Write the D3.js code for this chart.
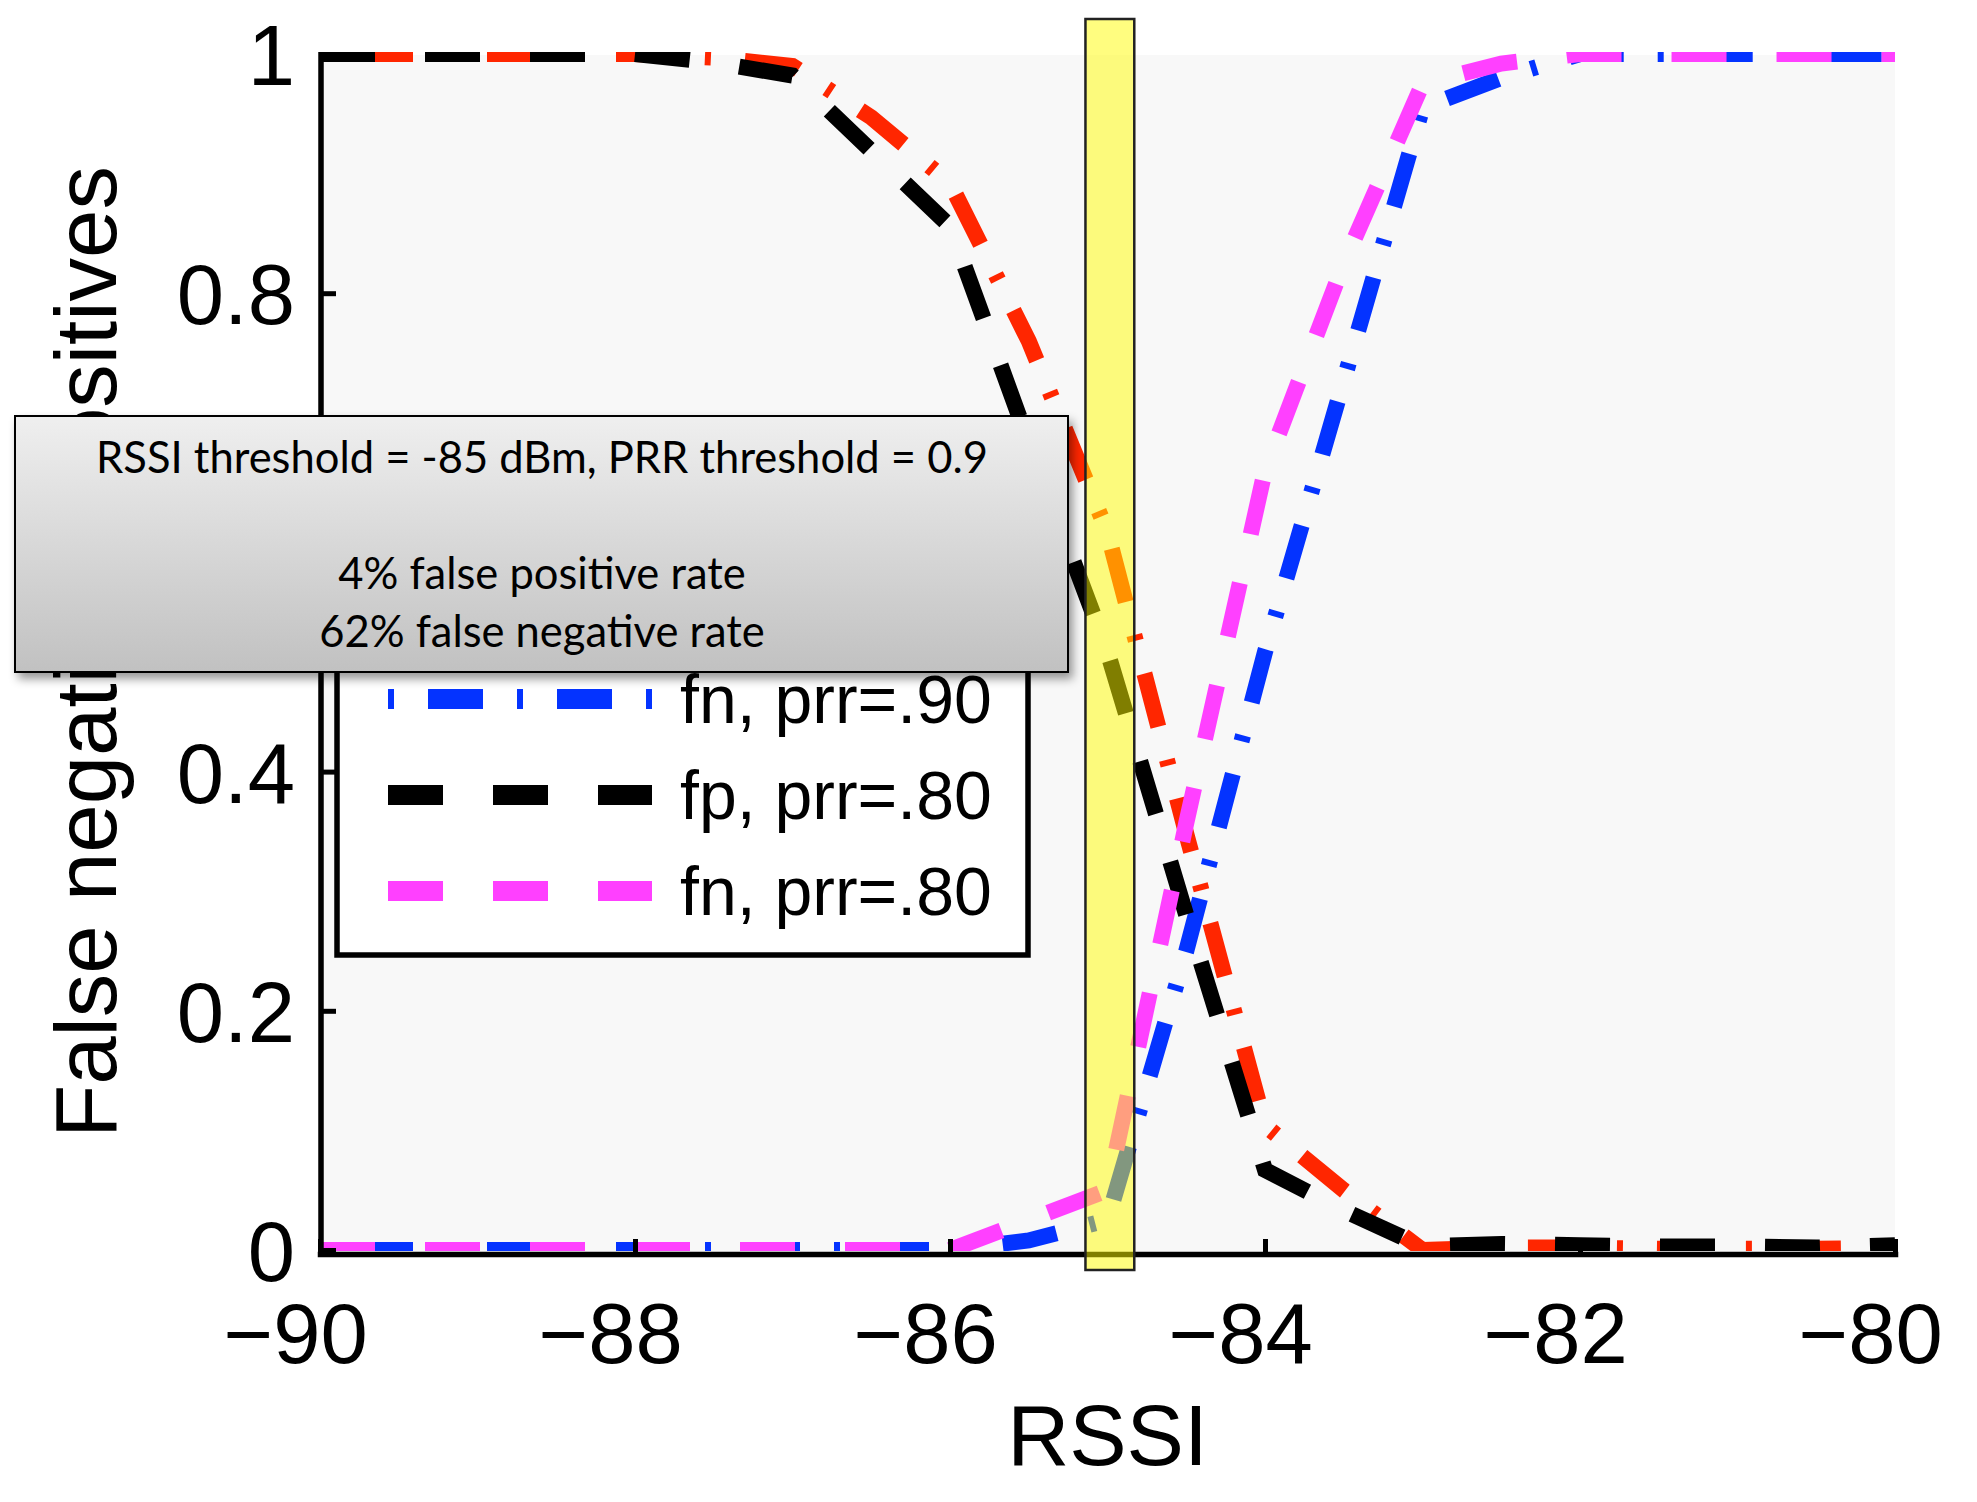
<!DOCTYPE html>
<html>
<head>
<meta charset="utf-8">
<script src="https://cdn.jsdelivr.net/npm/d3@7"></script>
<style>
html,body{margin:0;padding:0;background:#fff;}
</style>
</head>
<body>
<div id="chart"></div>
<script>
// values, one entry per RSSI sample
const rssi = [-90,-89.5,-89,-88.5,-88,-87.5,-87,-86.5,-86,-85.5,-85,-84.5,-84,-83.5,-83,-82.5,-82,-81.5,-81,-80.5,-80];
const fpPrr90 = [1,1,1,1,1,0.997,0.99,0.947,0.892,0.76,0.6,0.348,0.104,0.05,0.0,0.002,0.002,0.001,0.001,0.001,0.002];
const fnPrr90 = [0,0,0,0,0,0,0,0,0,0.008,0.025,0.25,0.5,0.727,0.955,0.98,1,1,1,1,1];
const fpPrr80 = [1,1,1,1,1,0.993,0.982,0.919,0.856,0.675,0.5,0.28,0.067,0.033,0.003,0.005,0.004,0.003,0.003,0.002,0.004];
const fnPrr80 = [0,0,0,0,0,0,0,0,0,0.025,0.05,0.357,0.652,0.825,0.975,0.992,1,1,1,1,1];

const seriesNames = ["fp, prr=.90","fn, prr=.90","fp, prr=.80","fn, prr=.80"];
const xTicks = [-90,-88,-86,-84,-82,-80];
const yTicks = [0,0.2,0.4,0.6,0.8,1];
const yTickLabels = ["0","0.2","0.4","0.6","0.8","1"];
const xLabel = "RSSI";
const yLabel = "False negatives/positives";
const bandRange = [-85.14,-84.83];
const noteLines = ["RSSI threshold = -85 dBm, PRR threshold = 0.9","","4% false positive rate","62% false negative rate"];

// matlab style line specs (colours as the mac renders them)
const lineStyles = [
	{color:"#ff2600",dash:"55,34,6,34",offset:91,legendOffset:89},
	{color:"#0433ff",dash:"55,34,6,34",offset:91,legendOffset:89},
	{color:"#000000",dash:"55,50",offset:0,legendOffset:0},
	{color:"#ff40ff",dash:"55,50",offset:0,legendOffset:0}
];

const AXIS_FONT = "'Liberation Sans', Arial, Helvetica, sans-serif";

class ThresholdChart{
	constructor(div,config){
		this.config=config;
		this.div=d3.select(div);
		var margin = {top: 54, right: 82, bottom: 252, left: 320};
		this.margin=margin;
		this.width = config.width - margin.left - margin.right;
		this.height = config.height - margin.top - margin.bottom;

		this.svg = this.div.append("svg")
			.attr("width", config.width)
			.attr("height", config.height);

		this.x = d3.scaleLinear().domain([-90,-80]).range([margin.left, margin.left+this.width]);
		this.y = d3.scaleLinear().domain([0,1]).range([margin.top+this.height, margin.top]);

		this._defs();
		this.svg.append("rect")
			.attr("x", this.x(-90))
			.attr("y", this.y(1)+1)
			.attr("width", this.width)
			.attr("height", this.y(0)-this.y(1)+3)
			.attr("fill","#f8f8f8");

		this.drawLines();
		this.drawAxes();
		this.drawLegend();
		this.drawBand();
		this.drawNote();
	}

	_defs(){
		let defs=this.svg.append("defs");
		defs.append("clipPath").attr("id","plot-clip")
			.append("rect")
			.attr("x", this.x(-90))
			.attr("y", this.y(1)-2)
			.attr("width", this.width+1)
			.attr("height", this.height+3);
		let grad = defs.append("linearGradient").attr("id","note-grad")
			.attr("x1",0).attr("y1",0).attr("x2",0).attr("y2",1);
		grad.append("stop").attr("offset","0%").attr("stop-color","#efefef");
		grad.append("stop").attr("offset","100%").attr("stop-color","#c1c1c1");
		let f = defs.append("filter").attr("id","note-shadow")
			.attr("x","-5%").attr("y","-10%").attr("width","115%").attr("height","130%");
		f.append("feDropShadow").attr("dx",4).attr("dy",6).attr("stdDeviation",5)
			.attr("flood-color","#000").attr("flood-opacity",0.4);
	}

	drawLines(){
		let self=this;
		let series=[fpPrr90,fnPrr90,fpPrr80,fnPrr80];
		let line = d3.line()
			.x(function(d,i){return self.x(rssi[i])})
			.y(function(d){return self.y(d)});
		let g = this.svg.append("g").attr("clip-path","url(#plot-clip)");
		series.forEach(function(vals,i){
			let st=lineStyles[i];
			g.append("path").datum(vals)
				.attr("d",line)
				.attr("fill","none")
				.attr("stroke",st.color)
				.attr("stroke-width",16)
				.attr("stroke-linejoin","miter")
				.attr("stroke-dasharray",st.dash)
				.attr("stroke-dashoffset",st.offset);
		});
	}

	drawAxes(){
		let xa = this.svg.append("g")
			.attr("transform","translate(0," + (this.y(0)+4) + ")")
			.call(d3.axisBottom(this.x).tickValues(xTicks).tickSizeInner(-15).tickSizeOuter(0)
				.tickFormat(function(d){return "\u2212"+Math.abs(d)}));
		xa.attr("font-size",85).attr("font-family",AXIS_FONT);
		xa.select(".domain").attr("stroke-width",5.5).attr("stroke-linecap","square");
		xa.selectAll(".tick line").attr("stroke-width",5);
		// the minus hangs to the left, digits sit centred on the tick
		xa.selectAll(".tick text")
			.attr("y",109).attr("dy",null)
			.attr("text-anchor","end").attr("dx","0.556em")
			.attr("fill","#000");

		let ya = this.svg.append("g")
			.attr("transform","translate(" + (this.x(-90)+1) + ",0)")
			.call(d3.axisLeft(this.y).tickValues(yTicks).tickSizeInner(-15).tickSizeOuter(0)
				.tickFormat(function(d,i){return yTickLabels[i]}));
		ya.attr("font-size",85).attr("font-family",AXIS_FONT);
		ya.select(".domain")
			.attr("d","M0," + (this.y(0)+7) + "V" + (this.y(1)-2))
			.attr("stroke-width",5.5);
		ya.selectAll(".tick line").attr("stroke-width",5);
		ya.selectAll(".tick text").attr("x",-26).attr("dy","0.36em").attr("fill","#000");

		this.svg.append("text")
			.attr("x", this.x(-85))
			.attr("y", 1465)
			.attr("text-anchor","middle")
			.attr("font-family",AXIS_FONT)
			.attr("font-size",86)
			.text(xLabel);

		this.svg.append("text")
			.attr("transform","translate(116," + ((this.y(0)+this.y(1))/2) + ") rotate(-90)")
			.attr("text-anchor","middle")
			.attr("font-family",AXIS_FONT)
			.attr("font-size",87)
			.text(yLabel);
	}

	drawLegend(){
		let lg = this.svg.append("g").attr("class","legend");
		lg.append("rect")
			.attr("x",337).attr("y",536)
			.attr("width",691).attr("height",419)
			.attr("fill","#fff").attr("stroke","#000").attr("stroke-width",5.5);
		seriesNames.forEach(function(name,i){
			let st=lineStyles[i];
			let yy=603+i*96;
			lg.append("line")
				.attr("x1",388).attr("x2",652)
				.attr("y1",yy).attr("y2",yy)
				.attr("stroke",st.color)
				.attr("stroke-width",20)
				.attr("stroke-dasharray",st.dash)
				.attr("stroke-dashoffset",st.legendOffset);
			// first row sits completely under the note box, its label is never seen
			if (i===0){
				return;
			}
			lg.append("text")
				.attr("x",680).attr("y",yy+24)
				.attr("font-family",AXIS_FONT)
				.attr("font-size",68)
				.text(name);
		});
	}

	drawBand(){
		let x0=this.x(bandRange[0]);
		this.svg.append("rect")
			.attr("x",x0)
			.attr("width",this.x(bandRange[1])-x0)
			.attr("y",this.y(1)-35)
			.attr("height",this.y(0)-this.y(1)+55)
			.attr("fill","#fffb00")
			.attr("fill-opacity",0.5)
			.attr("stroke","#222")
			.attr("stroke-width",2.5);
	}

	drawNote(){
		this.svg.append("rect")
			.attr("x",15).attr("y",416)
			.attr("width",1053).attr("height",256)
			.attr("fill","url(#note-grad)")
			.attr("stroke","#000").attr("stroke-width",2)
			.attr("filter","url(#note-shadow)");
		let t = this.svg.append("g")
			.attr("font-family","Lato, 'Open Sans', sans-serif")
			.attr("font-size",43.5)
			.attr("text-anchor","middle");
		noteLines.forEach(function(s,i){
			if (!s){
				return;
			}
			t.append("text").attr("x",542).attr("y",473+i*58).text(s);
		});
	}
}

new ThresholdChart("#chart",{width:1977,height:1502});
</script>
</body>
</html>
